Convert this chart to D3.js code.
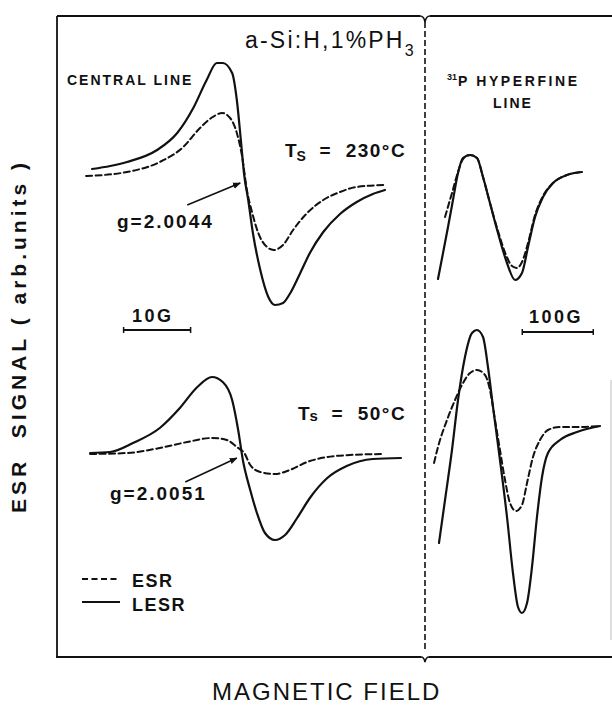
<!DOCTYPE html>
<html>
<head>
<meta charset="utf-8">
<script src="https://cdn.jsdelivr.net/npm/d3@7"></script>
<style>
  body { margin: 0; background: #fff; }
  svg text { font-family: "Liberation Sans", Arial, Helvetica, sans-serif; fill: #111; white-space: pre; }
</style>
</head>
<body>
<div id="chart"></div>
<script>
// central line, Ts = 230C  [field (G), signal (arb.)]
var lesrCentral230 = [[3.3,1.3],[6.0,1.6],[8.5,2.0],[13.0,3.2],[16.0,4.9],[18.4,7.4],[20.4,10.2],[21.9,11.9],[22.8,11.9],[24.2,10.9],[24.9,8.2],[25.5,4.2],[26.0,0.7],[26.6,-1.8],[27.3,-5.1],[28.4,-8.8],[29.6,-11.5],[30.6,-12.3],[31.8,-12.1],[32.8,-11.2],[34.3,-9.2],[35.8,-7.1],[37.8,-5.0],[40.3,-3.2],[42.8,-2.0],[45.2,-1.2],[47.0,-0.8]];
var esrCentral230 = [[2.4,0.6],[8.5,1.0],[13.4,2.0],[16.9,3.5],[19.4,5.4],[21.3,6.5],[22.7,6.9],[23.9,6.4],[24.9,4.9],[25.7,2.5],[26.4,-0.8],[27.2,-3.1],[28.1,-5.1],[29.4,-6.5],[30.4,-6.8],[31.8,-6.3],[33.3,-4.8],[35.4,-3.1],[37.8,-1.8],[40.3,-1.0],[42.8,-0.5],[46.9,-0.3]];

// central line, Ts = 50C
var lesrCentral50 = [[3.0,0.2],[6.0,0.3],[9.4,1.2],[13.4,2.7],[16.4,4.7],[19.0,6.8],[21.2,7.8],[22.8,7.3],[24.2,5.5],[25.1,2.5],[25.8,-0.5],[26.9,-3.5],[27.9,-5.8],[29.1,-7.8],[30.6,-8.5],[32.1,-8.0],[33.9,-6.3],[35.8,-4.3],[38.4,-2.3],[41.3,-1.1],[45.2,-0.4],[49.4,-0.3]];
var esrCentral50 = [[3.0,0.1],[8.5,0.2],[13.4,0.7],[17.5,1.3],[21.2,1.7],[23.4,1.5],[24.9,0.8],[26.1,0.1],[26.9,-1.0],[28.4,-1.7],[30.6,-1.9],[32.8,-1.5],[35.4,-0.7],[38.4,-0.2],[41.8,0.0],[46.7,0.1]];

// 31P hyperfine line, Ts = 230C
var lesrHyper230 = [[18.3,-9.7],[25.4,-7.1],[32.4,-4.5],[39.4,-1.8],[46.5,0.9],[53.5,2.4],[63.4,2.7],[73.2,2.4],[81.7,0.5],[91.5,-2.1],[102.8,-5.1],[115.5,-8.1],[126.8,-9.8],[136.6,-9.1],[145.1,-6.5],[155.0,-3.5],[166.2,-1.5],[180.3,-0.1],[200.0,0.7],[221.1,1.0]];
var esrHyper230 = [[28.2,-3.5],[38.0,-1.1],[46.5,1.0],[53.5,2.3],[63.4,2.7],[73.2,2.4],[81.7,0.5],[91.5,-2.1],[102.8,-4.9],[114.1,-7.3],[122.5,-8.4],[129.6,-8.6],[136.6,-8.0],[145.1,-6.1],[155.0,-3.3],[166.2,-1.4],[180.3,-0.1],[200.0,0.7],[221.1,1.0]];

// 31P hyperfine line, Ts = 50C
var lesrHyper50 = [[19.7,-8.8],[28.2,-4.5],[38.0,0.5],[46.5,5.5],[56.3,9.8],[66.2,12.2],[73.2,12.5],[81.7,11.8],[88.7,8.8],[95.8,4.8],[105.6,-0.5],[115.5,-6.2],[123.9,-11.8],[131.0,-15.2],[136.6,-15.8],[143.7,-14.8],[150.7,-11.2],[157.7,-6.2],[164.8,-2.2],[173.2,0.2],[190.1,1.5],[214.1,2.3],[246.5,2.9]];
var esrHyper50 = [[12.7,-0.8],[18.3,0.8],[31.0,3.5],[42.3,5.5],[52.1,7.0],[63.4,8.2],[73.2,8.5],[84.5,8.0],[91.5,6.5],[98.6,3.5],[105.6,0.5],[112.7,-2.5],[119.7,-4.8],[128.2,-5.6],[136.6,-5.0],[143.7,-2.8],[152.1,-0.2],[162.0,1.5],[173.2,2.5],[190.1,2.8],[214.1,2.8],[246.5,2.9]];

// scale bars (G) and g-value arrows [tail, tip]
var barCentral = [8, 18];
var barHyper = [137, 237];
var arrow230 = [[17.5,-2.3],[25.4,-0.1]];
var arrow50 = [[17.2,-2.7],[24.9,-0.3]];

var width = 612, height = 707;

var svg = d3.select("#chart")
    .append("svg")
    .attr("width", width)
    .attr("height", height);

svg.append("defs").append("marker")
    .attr("id", "head")
    .attr("viewBox", "0 0 10 10")
    .attr("refX", 9).attr("refY", 5)
    .attr("markerWidth", 5).attr("markerHeight", 5)
    .attr("orient", "auto")
    .append("path")
    .attr("d", "M0,1 L10,5 L0,9 Z")
    .attr("fill", "#111");

// scales: two field ranges, two rows
var xCentral = d3.scaleLinear().domain([0, 50]).range([70, 405]);
var xHyper = d3.scaleLinear().domain([0, 250]).range([425, 602.5]);
var yRow230 = d3.scaleLinear().domain([-15, 15]).range([332, 32]);
var yRow50 = d3.scaleLinear().domain([-15, 15]).range([605, 305]);

// frame
var frame = svg.append("g").attr("fill", "none").attr("stroke", "#111");
frame.append("line").attr("x1", 57).attr("y1", 16).attr("x2", 57).attr("y2", 657).attr("stroke-width", 1.8);
frame.append("line").attr("x1", 57).attr("y1", 16).attr("x2", 420).attr("y2", 16).attr("stroke-width", 1.8);
frame.append("line").attr("x1", 430).attr("y1", 16).attr("x2", 612).attr("y2", 16).attr("stroke-width", 1.8);
frame.append("line").attr("x1", 56).attr("y1", 657).attr("x2", 421).attr("y2", 657).attr("stroke-width", 1.8);
frame.append("line").attr("x1", 429).attr("y1", 657).attr("x2", 612).attr("y2", 657).attr("stroke-width", 1.8);
// break marks
frame.append("path").attr("d", "M420,16 Q424,16 425,22 Q426,16 430,16").attr("stroke-width", 1.6);
frame.append("path").attr("d", "M421,657 Q424,657 425,662 Q426,657 429,657").attr("stroke-width", 1.6);
frame.append("line").attr("x1", 425).attr("y1", 22).attr("x2", 425).attr("y2", 652)
    .attr("stroke-width", 1.6).attr("stroke-dasharray", "6,3");
frame.append("line").attr("x1", 611).attr("y1", 380).attr("x2", 611).attr("y2", 640)
    .attr("stroke", "#bbb").attr("stroke-width", 1);

// curves
function drawCurve(data, xs, ys, dashed) {
    var line = d3.line()
        .x(function (d) { return xs(d[0]); })
        .y(function (d) { return ys(d[1]); })
        .curve(d3.curveMonotoneX);
    svg.append("path")
        .datum(data)
        .attr("d", line)
        .attr("fill", "none")
        .attr("stroke", "#111")
        .attr("stroke-width", dashed ? 2 : 2.2)
        .attr("stroke-linecap", "round")
        .attr("stroke-dasharray", dashed ? "6,3.5" : null);
}

drawCurve(esrCentral230, xCentral, yRow230, true);
drawCurve(lesrCentral230, xCentral, yRow230, false);
drawCurve(esrCentral50, xCentral, yRow50, true);
drawCurve(lesrCentral50, xCentral, yRow50, false);
drawCurve(esrHyper230, xHyper, yRow230, true);
drawCurve(lesrHyper230, xHyper, yRow230, false);
drawCurve(esrHyper50, xHyper, yRow50, true);
drawCurve(lesrHyper50, xHyper, yRow50, false);

// g-value arrows
[[arrow230, yRow230], [arrow50, yRow50]].forEach(function (a) {
    svg.append("line")
        .attr("x1", xCentral(a[0][0][0])).attr("y1", a[1](a[0][0][1]))
        .attr("x2", xCentral(a[0][1][0])).attr("y2", a[1](a[0][1][1]))
        .attr("stroke", "#111").attr("stroke-width", 1.6)
        .attr("marker-end", "url(#head)");
});

// scale bars
function scaleBar(xs, range, y) {
    var g = svg.append("g").attr("stroke", "#111").attr("stroke-width", 2);
    g.append("line").attr("x1", xs(range[0])).attr("x2", xs(range[1])).attr("y1", y).attr("y2", y);
    g.append("line").attr("x1", xs(range[0])).attr("x2", xs(range[0])).attr("y1", y - 3).attr("y2", y + 3).attr("stroke-width", 1.5);
    g.append("line").attr("x1", xs(range[1])).attr("x2", xs(range[1])).attr("y1", y - 3).attr("y2", y + 3).attr("stroke-width", 1.5);
}
scaleBar(xCentral, barCentral, 330);
scaleBar(xHyper, barHyper, 332);

svg.append("text").attr("x", 132).attr("y", 322).style("font-size", "18px").style("font-weight", "bold")
    .style("letter-spacing", "2.5px").text("10G");
svg.append("text").attr("x", 529).attr("y", 323).style("font-size", "18px").style("font-weight", "bold")
    .style("letter-spacing", "2.5px").text("100G");

// title
var title = svg.append("text").attr("x", 245).attr("y", 48).style("font-size", "23px").style("letter-spacing", "2.2px");
title.append("tspan").text("a-Si:H,1%PH");
title.append("tspan").attr("dy", 8).style("font-size", "16px").text("3");

svg.append("text").attr("x", 67).attr("y", 85).style("font-size", "14px").style("font-weight", "bold")
    .style("letter-spacing", "2px").text("CENTRAL LINE");

var hyp = svg.append("text").attr("x", 447).attr("y", 86).style("font-weight", "bold");
hyp.append("tspan").attr("dy", -6).style("font-size", "9px").text("31");
hyp.append("tspan").attr("dy", 6).attr("dx", 1).style("font-size", "14px").style("letter-spacing", "2.6px").text("P HYPERFINE");
svg.append("text").attr("x", 513).attr("y", 108).attr("text-anchor", "middle").style("font-size", "14px")
    .style("font-weight", "bold").style("letter-spacing", "2px").text("LINE");

// temperatures
var t230 = svg.append("text").attr("x", 285).attr("y", 157).style("font-size", "19px").style("font-weight", "bold");
t230.append("tspan").text("T");
t230.append("tspan").attr("dy", 4).style("font-size", "14px").text("S");
t230.append("tspan").attr("dy", -4).style("letter-spacing", "1.5px").text("  =  230°C");

var t50 = svg.append("text").attr("x", 298).attr("y", 420).style("font-size", "19px").style("font-weight", "bold");
t50.append("tspan").text("T");
t50.append("tspan").attr("dy", 1).style("font-size", "15px").text("s");
t50.append("tspan").attr("dy", -1).style("letter-spacing", "1.5px").text("  =  50°C");

// g values
svg.append("text").attr("x", 117).attr("y", 228).style("font-size", "19px").style("font-weight", "bold")
    .style("letter-spacing", "2px").text("g=2.0044");
svg.append("text").attr("x", 110).attr("y", 500).style("font-size", "19px").style("font-weight", "bold")
    .style("letter-spacing", "2px").text("g=2.0051");

// legend
var legend = svg.append("g");
legend.append("line").attr("x1", 82).attr("x2", 120).attr("y1", 579).attr("y2", 579)
    .attr("stroke", "#111").attr("stroke-width", 2).attr("stroke-dasharray", "6,3.5");
legend.append("line").attr("x1", 82).attr("x2", 120).attr("y1", 602).attr("y2", 602)
    .attr("stroke", "#111").attr("stroke-width", 2);
legend.append("text").attr("x", 132).attr("y", 587).style("font-size", "18px").style("font-weight", "bold")
    .style("letter-spacing", "1.5px").text("ESR");
legend.append("text").attr("x", 132).attr("y", 611).style("font-size", "18px").style("font-weight", "bold")
    .style("letter-spacing", "1.5px").text("LESR");

// axis titles
svg.append("text").attr("x", 212).attr("y", 700).style("font-size", "24px").style("letter-spacing", "2px")
    .text("MAGNETIC FIELD");
svg.append("text").attr("transform", "translate(26,336) rotate(-90)").attr("text-anchor", "middle")
    .style("font-size", "21px").style("font-weight", "bold").style("letter-spacing", "4px")
    .text("ESR  SIGNAL ( arb.units )");
</script>
</body>
</html>
